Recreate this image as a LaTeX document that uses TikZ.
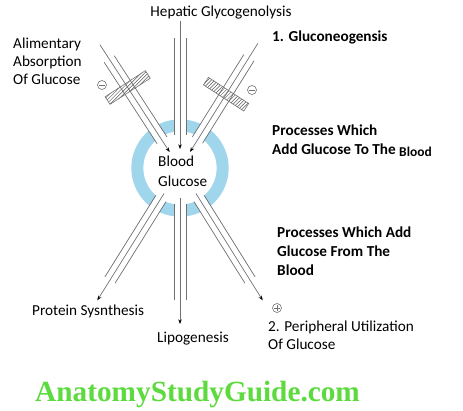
\documentclass[tikz,border=0pt]{standalone}
\usepackage{fontspec}
\setmainfont{Carlito}
\newfontfamily\markfont{Liberation Serif}
\usetikzlibrary{calc,patterns,arrows.meta}
\definecolor{ringblue}{RGB}{160,214,236}
\definecolor{linegray}{RGB}{112,112,112}
\definecolor{markgreen}{RGB}{92,218,62}

\begin{document}
\begin{tikzpicture}[x=0.03cm, y=-0.03cm]
        \tikzstyle{flow}=[draw=linegray, line width=0.6pt]
        \tikzstyle{arrowflow}=[flow, -{Stealth[length=4pt,width=3pt,black]}]
        \tikzstyle{ringgap}=[draw=white, line width=0.34cm]
        \tikzstyle{blocker}=[draw=linegray, line width=0.5pt, pattern=north east lines, pattern color=linegray!80!black, minimum width=1.44cm, minimum height=0.27cm, inner sep=0pt]
        \tikzstyle{sign}=[circle, draw=linegray, line width=0.5pt, minimum size=0.27cm, inner sep=0pt]
        \tikzstyle{txt}=[inner sep=0pt, align=left, font=\fontsize{13}{15.3}\selectfont]
        \tikzstyle{boldtxt}=[inner sep=0pt, align=left, font=\fontsize{13}{16.2}\selectfont\bfseries]

        \useasboundingbox (0,0) rectangle (463,411);

        % Blood glucose pool
        \coordinate (bg) at (180,168);
        \draw[ringblue, line width=0.36cm] (bg) circle (1.28cm);
        \node[txt, anchor=west, font=\fontsize{13}{17}\selectfont] (pool) at (158,171) {Blood\\Glucose};

        % Flows into the blood
        \foreach \a/\n in {237/ali, 270/hep, 302/glu} {
            \coordinate (\n-far) at ($(bg)+(\a:147)$);
            \coordinate (\n-tip) at ($(bg)+(\a:19)$);
            \draw[ringgap] ($(bg)+(\a:32)$) -- ($(bg)+(\a:56)$);
            \draw[flow] ($(bg)+(\a:130)+(\a+90:6)$) -- ($(bg)+(\a:33)+(\a+90:6)$);
            \draw[flow] ($(bg)+(\a:130)+(\a-90:6)$) -- ($(bg)+(\a:33)+(\a-90:6)$);
            \draw[arrowflow] (\n-far) -- (\n-tip);
        }

        % Flows out of the blood
        \foreach \a/\n in {122/pro, 90/lip, 58/per} {
            \coordinate (\n-near) at ($(bg)+(\a:30)$);
            \coordinate (\n-tip) at ($(bg)+(\a:156)$);
            \draw[ringgap] ($(bg)+(\a:32)$) -- ($(bg)+(\a:56)$);
            \draw[flow] ($(bg)+(\a:36)+(\a+90:6)$) -- ($(bg)+(\a:132)+(\a+90:6)$);
            \draw[flow] ($(bg)+(\a:36)+(\a-90:6)$) -- ($(bg)+(\a:132)+(\a-90:6)$);
            \draw[arrowflow] (\n-near) -- (\n-tip);
        }

        % Blocks and signs
        \node[blocker, rotate=33] (ali-block) at ($(bg)+(237:96)$) {};
        \node[blocker, rotate=-33] (glu-block) at ($(bg)+(302:87)$) {};
        \node[sign] (ali-sign) at (102,85) {};
        \node[sign] (glu-sign) at (252,90) {};
        \node[sign] (per-sign) at (277,308) {};
        \draw[linegray, line width=0.5pt] ([xshift=1.6pt]ali-sign.west) -- ([xshift=-1.6pt]ali-sign.east);
        \draw[linegray, line width=0.5pt] ([xshift=1.6pt]glu-sign.west) -- ([xshift=-1.6pt]glu-sign.east);
        \draw[linegray, line width=0.5pt] ([xshift=1.6pt]per-sign.west) -- ([xshift=-1.6pt]per-sign.east);
        \draw[linegray, line width=0.5pt] ([yshift=-1.6pt]per-sign.north) -- ([yshift=1.6pt]per-sign.south);

        % Labels
        \node[txt, anchor=center] (hep-label) at (221,13) {Hepatic Glycogenolysis};
        \node[txt, anchor=west] (ali-label) at (13,61) {Alimentary\\Absorption\\Of Glucose};
        \node[boldtxt, anchor=west] (glu-label) at (272,37) {1. Gluconeogensis};
        \node[boldtxt, anchor=west] (add-label) at (272,141) {Processes Which\\Add Glucose To The \raisebox{-2pt}{\fontsize{11.5}{12}\selectfont Blood}};
        \node[boldtxt, anchor=west] (rem-label) at (277,251) {Processes Which Add\\Glucose From The\\Blood};
        \node[txt, anchor=west] (pro-label) at (32,311) {Protein Sysnthesis};
        \node[txt, anchor=west] (lip-label) at (157,339) {Lipogenesis};
        \node[txt, anchor=west] (per-label) at (268,335) {2. Peripheral Utilization\\Of Glucose};
        \node[anchor=west, inner sep=0pt, text=markgreen, font=\markfont\bfseries\fontsize{25}{25}\selectfont] (site) at (35,394) {AnatomyStudyGuide.com};
\end{tikzpicture}
\end{document}
